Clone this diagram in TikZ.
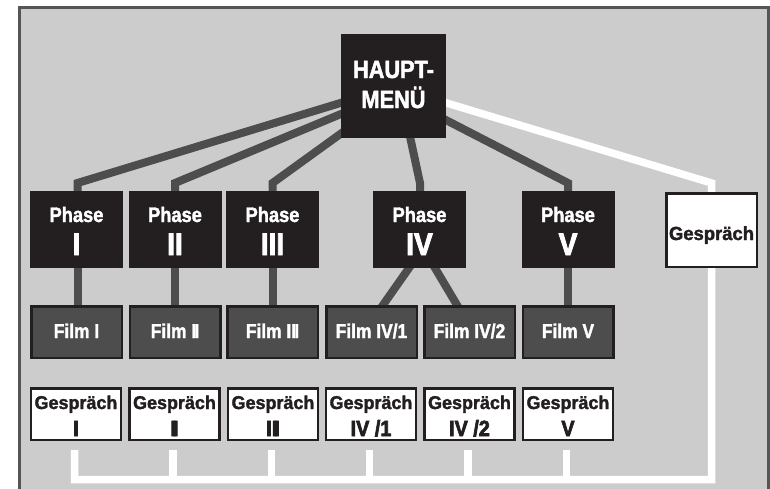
\documentclass[tikz,border=0pt]{standalone}
\usepackage{fontspec}
\setmainfont{Liberation Sans}
\newfontfamily\fcond{Liberation Sans}[FakeStretch=0.87,FakeBold=1.8]
\newfontfamily\fwide{Liberation Sans}[FakeStretch=0.97,FakeBold=1.8]
\newfontfamily\fheavy{Liberation Sans}[FakeStretch=0.9,FakeBold=3]
\usetikzlibrary{calc}
\pgfdeclarelayer{bglayer}
\pgfdeclarelayer{linelayer}
\pgfsetlayers{bglayer,linelayer,main}
\definecolor{bgc}{HTML}{CCCCCC}
\definecolor{frm}{HTML}{555555}
\definecolor{ink}{HTML}{231F20}
\definecolor{conn}{HTML}{4D4D4D}
\newcommand{\phnum}[1]{{\fheavy\bfseries\fontsize{31}{33}\selectfont #1}}
\newcommand{\gsnum}[1]{{\fheavy\bfseries\fontsize{22}{27}\selectfont #1}}
\begin{document}
\begin{tikzpicture}[x=1pt,y=-1pt,
 darkbox/.style={fill=ink, draw=ink, line width=0.6pt, inner sep=0pt, text=white, align=center},
 hmbox/.style={darkbox, minimum width=104.4pt, minimum height=103.4pt, text height=44pt, text depth=0pt, font=\fcond\bfseries\fontsize{25}{30}\selectfont},
 phbox/.style={darkbox, minimum width=92.4pt, minimum height=76.4pt, text height=51pt, text depth=0pt, font=\fcond\bfseries\fontsize{21}{33}\selectfont},
 filmbox/.style={fill=conn, draw=ink, line width=2.5pt, inner sep=0pt, text=white, minimum width=90.5pt, minimum height=51.5pt, text height=12pt, text depth=0pt, font=\fcond\bfseries\fontsize{20}{24}\selectfont},
 gbox/.style={fill=white, draw=ink, line width=2.5pt, inner sep=0pt, text=ink, align=center, minimum width=90pt, minimum height=51.5pt, text height=44pt, text depth=0pt, font=\fwide\bfseries\fontsize{18.5}{27}\selectfont},
 grbox/.style={gbox, minimum width=90.5pt, minimum height=73.5pt, text height=20pt, text depth=0pt, font=\fwide\bfseries\fontsize{19}{24}\selectfont},
 link/.style={draw=conn, line width=8pt},
 wlink/.style={draw=white, line width=7.5pt, line join=miter},
 frame/.style={fill=bgc, draw=frm, line width=3.3pt}
]
\useasboundingbox (0,0) rectangle (770,488);

% top node
\node[hmbox] (hm) at (393.5,86) {HAUPT-\\MENÜ};

% phases
\node[phbox] (p1) at (76.5,229.5) {Phase\\\phnum{I}};
\node[phbox] (p2) at (175,229.5) {Phase\\\phnum{II}};
\node[phbox] (p3) at (272.5,229.5) {Phase\\\phnum{III}};
\node[phbox] (p4) at (419.5,229.5) {Phase\\\phnum{IV}};
\node[phbox] (p5) at (568,229.5) {Phase\\\phnum{V}};
\node[grbox] (gr) at (711.5,230) {Gespräch};

% films
\node[filmbox] (f1) at (76.5,332) {Film I};
\node[filmbox] (f2) at (175,332) {Film I\kern-1.8pt I};
\node[filmbox] (f3) at (272.5,332) {Film II\kern-1.8pt I};
\node[filmbox] (f41) at (371.5,332) {Film IV/1};
\node[filmbox] (f42) at (469.5,332) {Film IV/2};
\node[filmbox] (f5) at (568,332) {Film V};

% talks
\node[gbox] (g1) at (76,414) {Gespräch\\\gsnum{I}};
\node[gbox] (g2) at (174.5,414) {Gespräch\\\gsnum{I\kern-3pt I}};
\node[gbox] (g3) at (273,414) {Gespräch\\\gsnum{II\kern-3pt I}};
\node[gbox] (g4) at (371,414) {Gespräch\\\gsnum{IV /1}};
\node[gbox] (g5) at (469.5,414) {Gespräch\\\gsnum{IV /2}};
\node[gbox] (g6) at (568,414) {Gespräch\\\gsnum{V}};

\foreach \i in {1,...,6}{\coordinate (s\i) at ($(g\i.south)+(-1.5,9)$);}
\coordinate (wy) at (0,479.5);

\begin{pgfonlayer}{bglayer}
\fill[white] (0,0) rectangle (770,488);
\draw[frame] (19.7,7.3) rectangle (768.6,494);
\end{pgfonlayer}

\begin{pgfonlayer}{linelayer}
\draw[link] ($(hm.west)+(6,15)$) -- ($(p1.north)+(1,-8)$) -- ($(p1.center)+(1,0)$);
\draw[link] ($(hm.west)+(6,25.5)$) -- ($(p2.north)+(0,-8)$) -- (p2.center);
\draw[link] ($(hm.west)+(9,41)$) -- ($(p3.north)+(0,-8)$) -- (p3.center);
\draw[link] ($(hm.south)+(15.5,-6)$) -- ($(p4.north)+(0.5,-8)$) -- ($(p4.center)+(0.5,0)$);
\draw[link] ($(hm.east)+(-6,31)$) -- ($(p5.north)+(0,-8)$) -- (p5.center);
\draw[link] ($(p1.center)+(1,0)$) -- ($(f1.center)+(1,0)$);
\draw[link] (p2.center) -- (f2.center);
\draw[link] (p3.center) -- (f3.center);
\draw[link] (p5.center) -- (f5.center);
\draw[link, shorten <=-5pt, shorten >=-5pt] ($(p4.south)+(-10.5,0)$) -- ($(f41.north)+(11.5,0)$);
\draw[link, shorten <=-5pt, shorten >=-5pt] ($(p4.south)+(15.5,0)$) -- ($(f42.north)+(-12.5,0)$);
\draw[wlink] ($(hm.east)+(-6,15)$) -- ($(gr.north)+(0,-9)$) -- (gr.south |- wy) -- (s1 |- wy) -- (s1);
\foreach \i in {2,...,6}{\draw[wlink] (s\i) -- (s\i |- wy);}
\end{pgfonlayer}
\end{tikzpicture}
\end{document}
